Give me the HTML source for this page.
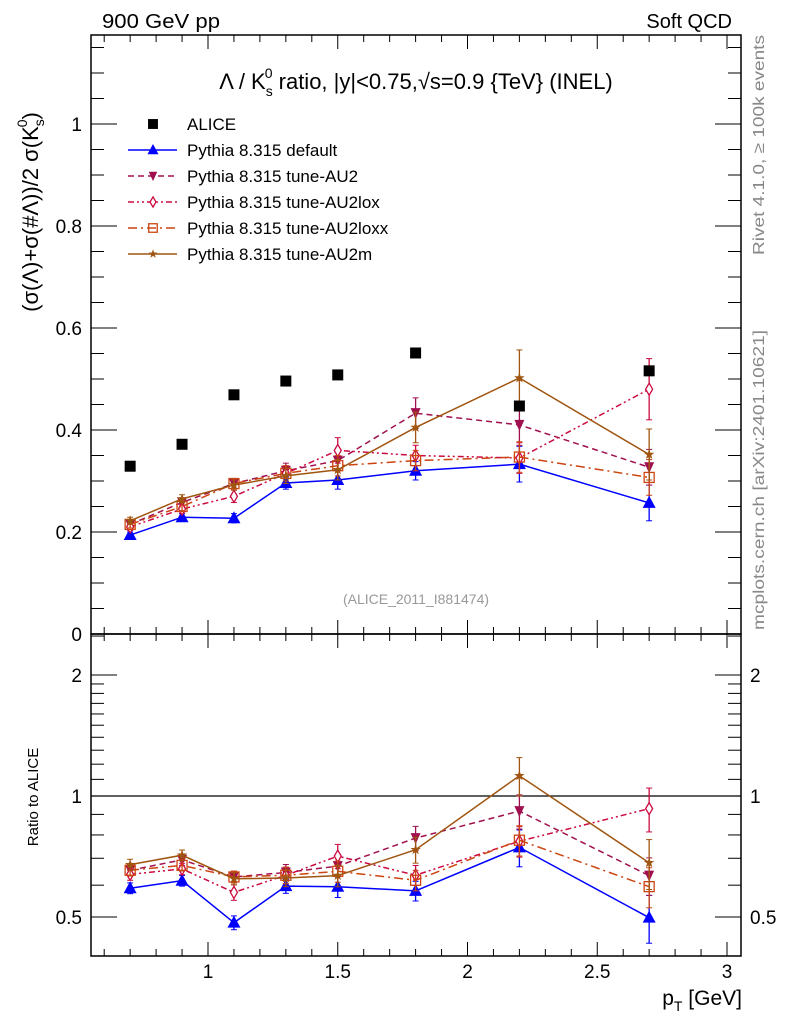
<!DOCTYPE html>
<html><head><meta charset="utf-8"><style>
html,body{margin:0;padding:0;background:#fff;}
svg text{font-family:"Liberation Sans",sans-serif;}
</style></head><body>
<svg id="chart" width="786" height="1024" xmlns="http://www.w3.org/2000/svg">
<text x="102" y="28" font-size="20" textLength="118" lengthAdjust="spacingAndGlyphs">900 GeV pp</text>
<text x="732" y="28" font-size="20" text-anchor="end">Soft QCD</text>
<text x="416" y="89" font-size="22" text-anchor="middle">Λ / K<tspan font-size="14" dy="7">s</tspan><tspan font-size="14" dx="-8" dy="-18">0</tspan><tspan dy="11"> ratio, |y|&lt;0.75,√s=0.9 {TeV} (INEL)</tspan></text>
<text transform="translate(38,212) rotate(-90)" font-size="22" text-anchor="middle">(σ(Λ)+σ(#Λ))/2 σ(K<tspan font-size="14" dy="6">s</tspan><tspan font-size="14" dx="-8" dy="-17">0</tspan><tspan dy="11">)</tspan></text>
<text transform="translate(38,797) rotate(-90)" font-size="15" text-anchor="middle">Ratio to ALICE</text>
<text transform="translate(764,255) rotate(-90)" font-size="16" fill="#888" textLength="220" lengthAdjust="spacingAndGlyphs">Rivet 4.1.0, ≥ 100k events</text>
<text transform="translate(764,630) rotate(-90)" font-size="16" fill="#888" textLength="300" lengthAdjust="spacingAndGlyphs">mcplots.cern.ch [arXiv:2401.10621]</text>
<text x="416" y="604" font-size="14" fill="#999" text-anchor="middle">(ALICE_2011_I881474)</text>
<text x="742" y="1005" font-size="21" text-anchor="end">p<tspan font-size="14" dy="6">T</tspan><tspan dy="-6"> [GeV]</tspan></text>
<g id="axes"></g>
<g id="marks"></g>
<g id="legend"></g>
</svg>
<script>
const xs = [0.7, 0.9, 1.1, 1.3, 1.5, 1.8, 2.2, 2.7];
const alice = [0.329, 0.372, 0.469, 0.496, 0.508, 0.551, 0.447, 0.516];
const vDefault = [0.194, 0.229, 0.227, 0.296, 0.302, 0.320, 0.333, 0.257];
const eDefault = [0.006, 0.007, 0.009, 0.012, 0.018, 0.018, 0.035, 0.035];
const vAU2 = [0.215, 0.258, 0.295, 0.320, 0.340, 0.433, 0.410, 0.327];
const eAU2 = [0.007, 0.008, 0.01, 0.015, 0.02, 0.03, 0.04, 0.035];
const vAU2lox = [0.210, 0.245, 0.270, 0.315, 0.360, 0.350, 0.345, 0.480];
const eAU2lox = [0.007, 0.008, 0.012, 0.015, 0.025, 0.02, 0.03, 0.06];
const vAU2loxx = [0.215, 0.250, 0.295, 0.315, 0.330, 0.340, 0.347, 0.307];
const eAU2loxx = [0.007, 0.008, 0.01, 0.015, 0.02, 0.02, 0.03, 0.035];
const vAU2m = [0.222, 0.265, 0.292, 0.310, 0.322, 0.405, 0.502, 0.352];
const eAU2m = [0.007, 0.008, 0.01, 0.015, 0.02, 0.03, 0.055, 0.05];
const xTicks = [1, 1.5, 2, 2.5, 3];
const yTicks = [0, 0.2, 0.4, 0.6, 0.8, 1];
const rTicks = [0.5, 1, 2];

const L=91, R=741, T=35, M=634, B=956;
const X = v => 208 + (v-1)*259.5;
const Y = v => 634 - 510*v;
const RY = r => 796 - 121*Math.log2(r);
const NS='http://www.w3.org/2000/svg';
function mk(tag, attrs, parent){const e=document.createElementNS(NS,tag);for(const k in attrs)e.setAttribute(k,attrs[k]);parent.appendChild(e);return e;}
const ax=document.getElementById('axes'), mg=document.getElementById('marks'), lg=document.getElementById('legend');

let f=mk('rect',{x:L,y:T,width:R-L,height:M-T,fill:'none',stroke:'#000','stroke-width':1.5},ax);

f=mk('rect',{x:L,y:M,width:R-L,height:B-M,fill:'none',stroke:'#000','stroke-width':1.5},ax);

let ln=mk('line',{x1:L,x2:R,y1:RY(1),y2:RY(1),stroke:'#000','stroke-width':1.2},ax);


for(let i=6;i<=30;i++){const v=i/10;const px=X(v);if(px<L||px>R)continue;const maj=(i%5===0);const len=maj?14:7;
 [T,M].forEach(y0=>mk('line',{x1:px,x2:px,y1:y0,y2:y0+len,stroke:'#000'},ax));
 [M,B].forEach(y0=>mk('line',{x1:px,x2:px,y1:y0,y2:y0-len,stroke:'#000'},ax));}
xTicks.forEach(v=>{const t=mk('text',{x:X(v),y:978,'font-size':19,'text-anchor':'middle'},ax);t.textContent=String(v);
 });
for(let i=0;i<=23;i++){const v=i*0.05;const py=Y(v);if(py<T)continue;const maj=(i%4===0);const len=maj?26:13;
 mk('line',{x1:L,x2:L+len,y1:py,y2:py,stroke:'#000'},ax);mk('line',{x1:R,x2:R-len,y1:py,y2:py,stroke:'#000'},ax);}
yTicks.forEach(v=>{const t=mk('text',{x:82,y:Y(v)+7,'font-size':19,'text-anchor':'end'},ax);t.textContent=String(v);
 });
[0.4,0.5,0.6,0.7,0.8,0.9,1,2].concat([1.1,1.2,1.3,1.4,1.5,1.6,1.7,1.8,1.9,2.5]).forEach(v=>{const py=RY(v);if(py<M||py>B)return;
 const maj=rTicks.includes(v);const len=maj?26:13;
 mk('line',{x1:L,x2:L+len,y1:py,y2:py,stroke:'#000'},ax);mk('line',{x1:R,x2:R-len,y1:py,y2:py,stroke:'#000'},ax);});
rTicks.forEach(v=>{let t=mk('text',{x:82,y:RY(v)+7,'font-size':19,'text-anchor':'end'},ax);t.textContent=String(v);
 
 t=mk('text',{x:750,y:RY(v)+7,'font-size':19},ax);t.textContent=String(v);
 });

function marker(kind,cx,cy,col,parent,s){s=s||1;let e;
 if(kind==='sq')e=mk('rect',{x:cx-5.5*s,y:cy-5.5*s,width:11*s,height:11*s,fill:col},parent);
 else if(kind==='tu')e=mk('polygon',{points:`${cx},${cy-7*s} ${cx-6.5*s},${cy+5*s} ${cx+6.5*s},${cy+5*s}`,fill:col},parent);
 else if(kind==='td')e=mk('polygon',{points:`${cx},${cy+6*s} ${cx-5*s},${cy-5*s} ${cx+5*s},${cy-5*s}`,fill:col},parent);
 else if(kind==='di')e=mk('polygon',{points:`${cx},${cy-6*s} ${cx-3.5*s},${cy} ${cx},${cy+6*s} ${cx+3.5*s},${cy}`,fill:'#fff',stroke:col,'stroke-width':1.3},parent);
 else if(kind==='os')e=mk('rect',{x:cx-5*s,y:cy-5*s,width:10*s,height:10*s,fill:'none',stroke:col,'stroke-width':1.3},parent);
 else {let p=[];for(let k=0;k<10;k++){const r=k%2?2.2*s:5.5*s;const a=-Math.PI/2+k*Math.PI/5;p.push((cx+r*Math.cos(a)).toFixed(1)+','+(cy+r*Math.sin(a)).toFixed(1));}
  e=mk('polygon',{points:p.join(' '),fill:col},parent);}
 return e;}

const series=[
 {name:'default',label:'Pythia 8.315 default',v:vDefault,e:eDefault,col:'#0000ff',dash:'',m:'tu'},
 {name:'au2',label:'Pythia 8.315 tune-AU2',v:vAU2,e:eAU2,col:'#a0104e',dash:'6,4',m:'td'},
 {name:'au2lox',label:'Pythia 8.315 tune-AU2lox',v:vAU2lox,e:eAU2lox,col:'#cc0a40',dash:'6,3,2,3,2,3',m:'di'},
 {name:'au2loxx',label:'Pythia 8.315 tune-AU2loxx',v:vAU2loxx,e:eAU2loxx,col:'#cc4410',dash:'9,4,2,4',m:'os'},
 {name:'au2m',label:'Pythia 8.315 tune-AU2m',v:vAU2m,e:eAU2m,col:'#a05510',dash:'',m:'st'}];

series.forEach(s=>{
 const g=mk('g',{},mg);
 const pts=xs.map((x,i)=>X(x)+','+Y(s.v[i])).join(' ');
 const rpts=xs.map((x,i)=>X(x)+','+RY(s.v[i]/alice[i])).join(' ');
 let pl=mk('polyline',{points:pts,fill:'none',stroke:s.col,'stroke-width':1.5,'stroke-dasharray':s.dash},g);
 
 pl=mk('polyline',{points:rpts,fill:'none',stroke:s.col,'stroke-width':1.5,'stroke-dasharray':s.dash},g);
 
 xs.forEach((x,i)=>{const px=X(x);
  const y1=Y(s.v[i]-s.e[i]),y2=Y(s.v[i]+s.e[i]);
  mk('line',{x1:px,x2:px,y1:y1,y2:y2,stroke:s.col,'stroke-width':1.3},g);
  mk('line',{x1:px-3,x2:px+3,y1:y1,y2:y1,stroke:s.col},g);mk('line',{x1:px-3,x2:px+3,y1:y2,y2:y2,stroke:s.col},g);
  const r1=RY((s.v[i]-s.e[i])/alice[i]),r2=RY((s.v[i]+s.e[i])/alice[i]);
  mk('line',{x1:px,x2:px,y1:r1,y2:r2,stroke:s.col,'stroke-width':1.3},g);
  mk('line',{x1:px-3,x2:px+3,y1:r1,y2:r1,stroke:s.col},g);mk('line',{x1:px-3,x2:px+3,y1:r2,y2:r2,stroke:s.col},g);
  let m=marker(s.m,px,Y(s.v[i]),s.col,g);
  m=marker(s.m,px,RY(s.v[i]/alice[i]),s.col,g);
 });
});
const ga=mk('g',{},mg);
xs.forEach((x,i)=>{const m=marker('sq',X(x),Y(alice[i]),'#000',ga);});

const legY=[124,150,176,202,228,254];
let le=mk('g',{},lg);
marker('sq',153,legY[0],'#000',le,0.9);
let tt=mk('text',{x:187,y:legY[0]+6,'font-size':17},le);tt.textContent='ALICE';
series.forEach((s,k)=>{const y=legY[k+1];const g=mk('g',{},lg);
 
 mk('line',{x1:128,x2:177,y1:y,y2:y,stroke:s.col,'stroke-width':1.5,'stroke-dasharray':s.dash},g);
 marker(s.m,153,y,s.col,g,0.85);
 const t=mk('text',{x:187,y:y+6,'font-size':17},g);t.textContent=s.label;});
</script>
</body></html>
